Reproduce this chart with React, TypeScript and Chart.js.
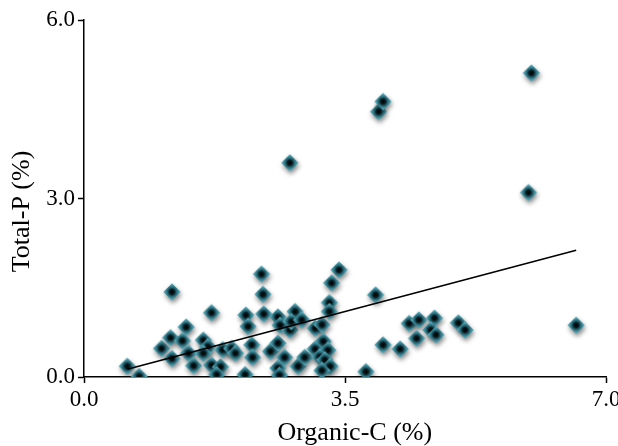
import React, { useEffect, useRef } from "react";
import { Chart, registerables } from "chart.js";

Chart.register(...registerables);

// Organic-C (%) and Total-P (%)
const organicC = [
  0.58, 0.74, 1.04, 1.18, 1.16, 1.18, 1.37, 1.32, 1.40, 1.47,
  1.60, 1.66, 1.60, 1.71, 1.71, 1.83, 1.78, 1.86, 1.98, 2.03,
  2.17, 2.20, 2.16, 2.25, 2.26, 2.38, 2.40, 2.41, 2.50, 2.60,
  2.63, 2.60, 2.69, 2.60, 2.62, 2.76, 2.83, 2.78, 2.92, 2.87,
  2.96, 3.10, 3.19, 3.21, 3.10, 3.27, 3.16, 3.23, 3.30, 3.19,
  3.42, 3.32, 3.29, 3.29, 2.76, 3.78, 3.91, 4.01, 4.24, 4.36,
  4.49, 4.46, 4.70, 4.65, 4.72, 5.02, 5.11, 6.60, 3.95, 4.01,
  6.00, 5.96,
];
const totalP = [
  0.18, 0.01, 0.48, 1.43, 0.66, 0.31, 0.84, 0.61, 0.40, 0.19,
  0.62, 0.51, 0.40, 1.08, 0.20, 0.17, 0.04, 0.46, 0.48, 0.40,
  1.04, 0.85, 0.04, 0.54, 0.33, 1.73, 1.39, 1.06, 0.43, 1.01,
  0.87, 0.57, 0.33, 0.15, 0.03, 0.79, 1.10, 0.93, 0.96, 0.18,
  0.33, 0.82, 0.88, 0.60, 0.47, 0.45, 0.34, 0.29, 0.18, 0.11,
  1.80, 1.58, 1.25, 1.10, 3.60, 0.09, 1.38, 0.54, 0.47, 0.90,
  0.96, 0.65, 0.99, 0.79, 0.71, 0.91, 0.79, 0.87, 4.46, 4.63,
  5.11, 3.10,
];
// Trend line end points
const trendC = [0.58, 6.6];
const trendP = [0.13, 2.13];

const xTicks = [0, 3.5, 7];
const yTicks = [0, 3, 6];

function makeDiamond(): HTMLCanvasElement {
  const c = document.createElement("canvas");
  c.width = 30;
  c.height = 30;
  const ctx = c.getContext("2d")!;
  const cx = 15, cy = 15, r = 8.5;
  const path = () => {
    ctx.beginPath();
    ctx.moveTo(cx, cy - r);
    ctx.lineTo(cx + r, cy);
    ctx.lineTo(cx, cy + r);
    ctx.lineTo(cx - r, cy);
    ctx.closePath();
  };
  ctx.save();
  ctx.shadowColor = "rgba(0,0,0,0.5)";
  ctx.shadowBlur = 5;
  ctx.shadowOffsetY = 3;
  ctx.shadowOffsetX = 1;
  path();
  ctx.fillStyle = "#438f9e";
  ctx.fill();
  ctx.restore();
  const g = ctx.createRadialGradient(cx, cy, 0, cx, cy, r);
  g.addColorStop(0, "#000000");
  g.addColorStop(0.28, "#08191d");
  g.addColorStop(0.55, "#2a6b79");
  g.addColorStop(0.8, "#4a9cab");
  g.addColorStop(1, "#6fb6c3");
  path();
  ctx.fillStyle = g;
  ctx.fill();
  return c;
}

export default function App() {
  const ref = useRef<HTMLCanvasElement>(null);
  useEffect(() => {
    document.body.style.margin = "0";
    const diamond = makeDiamond();
    const font = "'Liberation Serif', 'Times New Roman', serif";
    const chart = new Chart(ref.current!, {
      type: "scatter",
      data: {
        datasets: [
          {
            label: "trend",
            data: trendC.map((x, i) => ({ x, y: trendP[i] })),
            showLine: true,
            borderColor: "#000",
            borderWidth: 1.6,
            pointRadius: 0,
            fill: false,
          },
          {
            label: "samples",
            data: organicC.map((x, i) => ({ x, y: totalP[i] })),
            pointStyle: diamond as any,
            pointRadius: 9,
            showLine: false,
          },
        ],
      },
      options: {
        animation: false,
        responsive: true,
        maintainAspectRatio: false,
        layout: { padding: { top: 20, right: 12, left: 0, bottom: 0 } },
        plugins: { legend: { display: false }, tooltip: { enabled: false } },
        scales: {
          x: {
            type: "linear",
            min: 0,
            max: 7,
            afterBuildTicks: (s: any) => {
              s.ticks = xTicks.map((v) => ({ value: v }));
            },
            afterFit: (s: any) => {
              s.height = 69;
              s.paddingRight = 0;
            },
            ticks: {
              color: "#000",
              font: { family: font, size: 23 },
              padding: 3,
              maxRotation: 0,
              callback: (v: any) => Number(v).toFixed(1),
            },
            grid: {
              display: true,
              drawOnChartArea: false,
              drawTicks: true,
              tickLength: 6,
              tickColor: "#000",
              tickWidth: 1.5,
            },
            border: { display: true, color: "#000", width: 1.5 },
            title: {
              display: true,
              text: "   Organic-C (%)",
              color: "#000",
              font: { family: font, size: 26, lineHeight: 1 },
              padding: { top: 0, bottom: 0 },
            },
          },
          y: {
            type: "linear",
            min: 0,
            max: 6,
            afterBuildTicks: (s: any) => {
              s.ticks = yTicks.map((v) => ({ value: v }));
            },
            afterFit: (s: any) => {
              s.width = 84;
            },
            ticks: {
              color: "#000",
              font: { family: font, size: 23 },
              padding: 3,
              callback: (v: any) => Number(v).toFixed(1),
            },
            grid: {
              display: true,
              drawOnChartArea: false,
              drawTicks: true,
              tickLength: 6,
              tickColor: "#000",
              tickWidth: 1.5,
            },
            border: { display: true, color: "#000", width: 1.5 },
            title: {
              display: true,
              text: "Total-P (%)    ",
              color: "#000",
              font: { family: font, size: 26, lineHeight: 1 },
              padding: { top: 9, bottom: 0 },
            },
          },
        },
      },
    });
    return () => chart.destroy();
  }, []);
  return (
    <div style={{ position: "absolute", left: 0, top: 0, width: 618, height: 446 }}>
      <canvas ref={ref} />
    </div>
  );
}
